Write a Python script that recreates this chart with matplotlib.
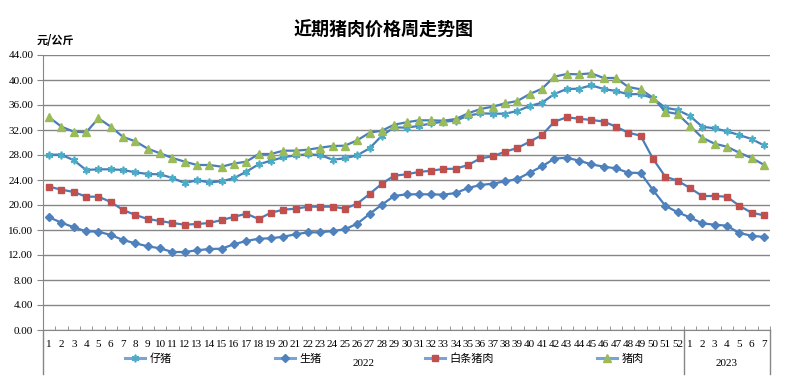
import numpy as np
import matplotlib
matplotlib.use("Agg")
from matplotlib import pyplot as plt
from matplotlib.lines import Line2D

plt.rcParams['font.family'] = ['Liberation Serif', 'Noto Sans CJK SC']

# week labels: 2022 weeks 1-52, 2023 weeks 1-7
weeks = [str(i) for i in range(1, 53)] + [str(i) for i in range(1, 8)]
years = ['2022', '2023']
year_len = [52, 7]

piglet = [28.05, 28.05, 27.15, 25.60, 25.71, 25.71, 25.60, 25.23, 24.96, 24.91,
          24.32, 23.52, 23.95, 23.63, 23.79, 24.30, 25.33, 26.51, 27.09, 27.63,
          27.95, 28.11, 28.00, 27.25, 27.47, 27.95, 29.07, 31.09, 32.43, 32.37,
          32.66, 33.05, 33.33, 33.49, 34.29, 34.67, 34.61, 34.61, 35.04, 35.84,
          36.37, 37.76, 38.56, 38.61, 39.15, 38.56, 38.24, 37.71, 37.76, 37.07,
          35.57, 35.20, 34.24, 32.53, 32.27, 31.79, 31.20, 30.56, 29.55]
hog = [18.03, 17.17, 16.43, 15.79, 15.73, 15.20, 14.40, 13.87, 13.39, 13.07,
       12.48, 12.48, 12.75, 12.96, 13.01, 13.73, 14.24, 14.61, 14.67, 14.93,
       15.31, 15.63, 15.63, 15.84, 16.11, 17.01, 18.56, 20.05, 21.44, 21.71,
       21.71, 21.71, 21.65, 21.92, 22.72, 23.20, 23.41, 23.79, 24.16, 25.17,
       26.19, 27.41, 27.57, 27.09, 26.51, 26.13, 25.87, 25.17, 25.12, 22.40,
       19.89, 18.83, 18.03, 17.07, 16.85, 16.69, 15.52, 15.09, 14.88]
carcass = [22.93, 22.45, 22.08, 21.33, 21.33, 20.48, 19.20, 18.40, 17.76, 17.44,
           17.12, 16.85, 16.96, 17.12, 17.60, 18.10, 18.61, 17.76, 18.77, 19.25,
           19.41, 19.73, 19.73, 19.73, 19.41, 20.21, 21.76, 23.41, 24.69, 24.91,
           25.28, 25.49, 25.76, 25.81, 26.40, 27.47, 27.79, 28.53, 29.12, 30.13,
           31.20, 33.33, 34.03, 33.81, 33.60, 33.36, 32.53, 31.57, 31.09, 27.41,
           24.53, 23.89, 22.72, 21.44, 21.44, 21.33, 19.89, 18.77, 18.35]
pork = [34.03, 32.53, 31.73, 31.63, 33.87, 32.53, 30.88, 30.19, 29.01, 28.27,
        27.52, 26.93, 26.40, 26.40, 26.13, 26.64, 26.93, 28.16, 28.16, 28.69,
        28.69, 28.85, 29.17, 29.44, 29.49, 30.35, 31.57, 31.89, 32.85, 33.23,
        33.55, 33.55, 33.49, 33.76, 34.67, 35.36, 35.73, 36.27, 36.64, 37.76,
        38.61, 40.53, 40.96, 40.91, 41.07, 40.32, 40.32, 38.88, 38.51, 37.17,
        34.93, 34.56, 32.69, 30.77, 29.81, 29.33, 28.37, 27.52, 26.45]

W, H = 792, 382
fig = plt.figure(figsize=(W / 100, H / 100), dpi=100)
ax = fig.add_axes([43 / W, (H - 330) / H, 727 / W, 275 / H])

x = np.arange(1, len(weeks) + 1)
line_c = '#4a7ebb'
series = [
    ('仔猪', piglet, dict(marker=(6, 2, 0), ms=5.5, mec='#4bacc6', mfc='#4bacc6', mew=1.2)),
    ('生猪', hog, dict(marker='D', ms=3.8, mec='#4f81bd', mfc='#4f81bd')),
    ('白条猪肉', carcass, dict(marker='s', ms=5, mec='#c0504d', mfc='#c0504d')),
    ('猪肉', pork, dict(marker='^', ms=5.5, mec='#9bbb59', mfc='#9bbb59')),
]
handles = []
for name, vals, style in series:
    ax.plot(x, vals, color=line_c, lw=1.6, zorder=3, **style)
    handles.append(Line2D([], [], color='#7aa3d6', lw=2.2, label=name, **style))

ax.set_xlim(0.5, len(weeks) + 0.5)
ax.set_ylim(0, 44)
ax.set_yticks(np.arange(0, 45, 4))
ax.set_yticklabels(['%.2f' % v for v in np.arange(0, 45, 4)], fontsize=8)
ax.yaxis.grid(True, color='#868686', lw=1)
ax.set_axisbelow(True)

ax.set_xticks(x)
ax.set_xticklabels(weeks, fontsize=8)
ax.set_xticks(np.arange(0.5, len(weeks) + 1), minor=True)
ax.tick_params(axis='x', which='major', length=0, pad=7)
ax.tick_params(axis='x', which='minor', direction='in', length=3, color='#868686')
ax.tick_params(axis='y', length=4, color='#868686', pad=3)

for s in ['top', 'right']:
    ax.spines[s].set_visible(False)
for s in ['left', 'bottom']:
    ax.spines[s].set_color('#868686')

# second-level category axis (years)
trans = ax.get_xaxis_transform()
low = -44 / 275
edges = [0.5, 0.5 + year_len[0], 0.5 + sum(year_len)]
for e in edges:
    ax.plot([e, e], [0, low], color='#868686', lw=1, transform=trans, clip_on=False)
for i, yr in enumerate(years):
    ax.text((edges[i] + edges[i + 1]) / 2, -34 / 275, yr, transform=trans,
            ha='center', va='center', fontsize=8)

fig.legend(handles=handles, loc='center left', bbox_to_anchor=(125 / W, 1 - 359 / H),
           ncol=4, frameon=False, fontsize=8, borderpad=0, borderaxespad=0,
           handlelength=1.8, handletextpad=0.4, columnspacing=9.3,
           prop={'family': ['Noto Sans CJK SC'], 'size': 8})

fig.text(384 / W, 1 - 30 / H, '近期猪肉价格周走势图', ha='center', va='center',
         fontsize=13, fontweight='bold', family=['Noto Sans CJK SC'])
fig.text(37 / W, 1 - 41 / H, '元/公斤', ha='left', va='center',
         fontsize=8, fontweight='bold', family=['Noto Sans CJK SC'])

fig.savefig('out.png', dpi=100)
